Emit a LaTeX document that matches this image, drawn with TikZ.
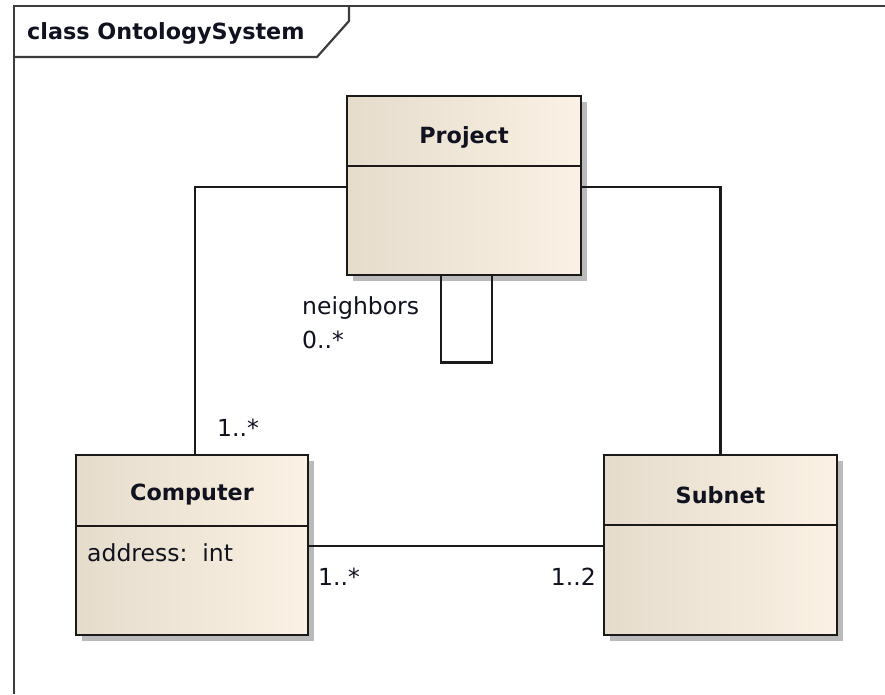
\documentclass[tikz,border=0pt]{standalone}
\usepackage{fontspec}
\setmainfont{DejaVu Sans}
\usetikzlibrary{shadows,calc}
\definecolor{boxL}{HTML}{E6DCCC}
\definecolor{boxR}{HTML}{FBF1E4}
\definecolor{txt}{HTML}{10131F}
\definecolor{lin}{HTML}{1A1A1A}
\tikzset{
  umlclass/.style={draw=lin, line width=2.8pt, left color=boxL, right color=boxR,
    drop shadow={shadow xshift=6pt, shadow yshift=-6pt, fill=black!27, opacity=1},
    inner sep=0pt},
  bold/.style={font=\fontsize{22.3}{26}\selectfont\bfseries, text=txt, inner sep=0pt},
  reg/.style={font=\fontsize{23.5}{27}\selectfont, text=txt, inner sep=0pt},
  conn/.style={draw=lin, line width=2.2pt},
  frame/.style={draw=lin!85, line width=2.2pt}
}
\begin{document}
\begin{tikzpicture}[x=1pt,y=-1pt]
\useasboundingbox (0,0) rectangle (885,694);
\fill[white] (0,0) rectangle (885,694);
% frame
\draw[frame] (885,6) -- (14,6) -- (14,694);
\draw[frame] (349,6) -- (349,21) -- (317,57) -- (14,57);
\node[bold, anchor=west] (title) at (27,33) {class OntologySystem};
% classes
\node[umlclass, minimum width=234pt, minimum height=179pt] (proj) at (464,185.5) {};
\node[umlclass, minimum width=232pt, minimum height=180pt] (comp) at (192,545) {};
\node[umlclass, minimum width=233pt, minimum height=180pt] (sub) at (720.5,545) {};
\draw[conn] ([yshift=-71pt]proj.north west) -- ([yshift=-71pt]proj.north east);
\draw[conn] ([yshift=-72pt]comp.north west) -- ([yshift=-72pt]comp.north east);
\draw[conn] ([yshift=-71pt]sub.north west) -- ([yshift=-71pt]sub.north east);
\node[bold] (projname) at (464,137) {Project};
\node[bold] (compname) at (192,495) {Computer};
\node[bold] (subname) at (720.5,495) {Subnet};
\node[reg, anchor=west] (attr) at (87,553) {address:\ \ int};
% connectors
\draw[conn] ([yshift=-1.5pt]proj.west) -| ([xshift=3pt]comp.north);
\draw[conn] ([yshift=-1.5pt]proj.east) -| (sub.north);
\draw[conn] ([yshift=-1pt]comp.east) -- ([yshift=-1pt]sub.west);
\draw[conn] ([xshift=-23pt]proj.south) -- ++(0,86) -| ([xshift=28pt]proj.south);
% labels
\node[reg, anchor=west] (nb) at (302,308) {neighbors};
\node[reg, anchor=west] (nbm) at (302,340) {0..*};
\node[reg, anchor=west] (cm1) at (217,428) {1..*};
\node[reg, anchor=west] (cm2) at (318,577) {1..*};
\node[reg, anchor=east] (sm) at (596,577) {1..2};
\end{tikzpicture}
\end{document}
